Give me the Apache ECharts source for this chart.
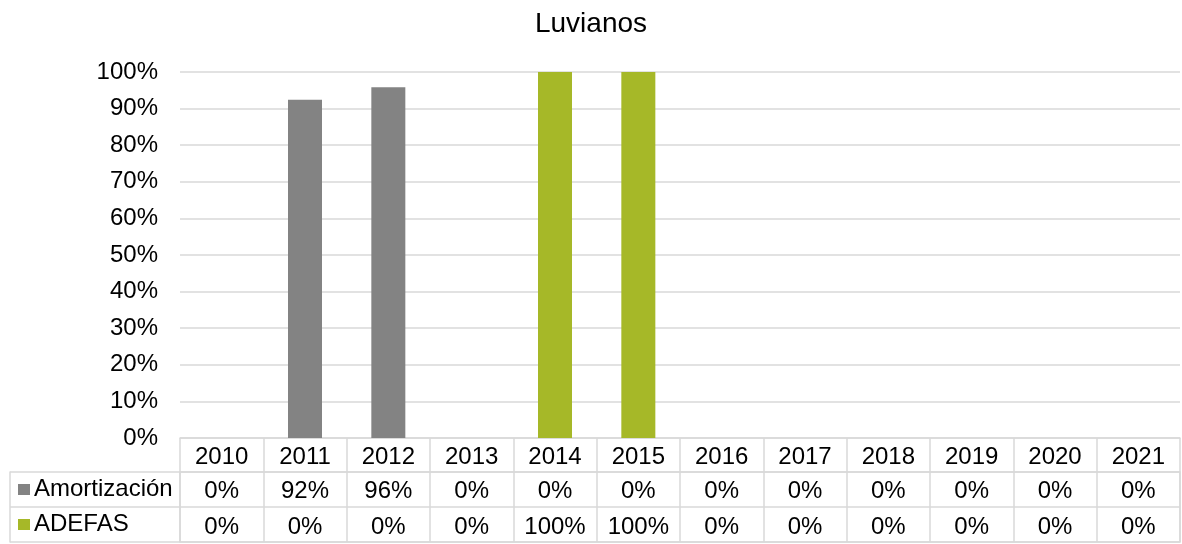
<!DOCTYPE html>
<html>
<head>
<meta charset="utf-8">
<script src="https://cdn.jsdelivr.net/npm/echarts@6/dist/echarts.min.js"></script>
<style>
  html, body { margin: 0; padding: 0; background: #fff; }
  #chart { width: 1182px; height: 544px; }
</style>
</head>
<body>
<div id="chart"></div>
<script>
// datos de la gráfica
var years = ["2010", "2011", "2012", "2013", "2014", "2015", "2016", "2017", "2018", "2019", "2020", "2021"];
var amortizacion = [0, 92.4, 95.8, 0, 0, 0, 0, 0, 0, 0, 0, 0];
var adefas = [0, 0, 0, 0, 100, 100, 0, 0, 0, 0, 0, 0];
var seriesNames = ["Amortización", "ADEFAS"];
var rowNames = ["Amortización", "ADEFAS"];
var yMin = 0, yMax = 100, yStep = 10;

var colors = ["#838383", "#a6b828"];
var lineColor = "#d9d9d9";
var fontFamily = "Liberation Sans, Arial, sans-serif";
var fs = 24;

var chart = echarts.init(document.getElementById("chart"));

function pct(v) {
  return Math.round(v) + "%";
}

var option = {
  animation: false,
  backgroundColor: "#fff",
  textStyle: { fontFamily: fontFamily },
  title: {
    text: "Luvianos",
    left: "center",
    top: 5,
    textStyle: { fontFamily: fontFamily, fontSize: 28, fontWeight: "normal", color: "#000" }
  },
  grid: [
    { left: 180, right: 2, top: 72, height: 366 },
    { left: 180, right: 2, top: 472, height: 71, show: true, borderColor: lineColor, borderWidth: 1.5 }
  ],
  xAxis: [
    {
      gridIndex: 0,
      type: "category",
      data: years,
      axisLine: { lineStyle: { color: lineColor, width: 1.5 } },
      axisTick: { show: true, length: 34, interval: 0, lineStyle: { color: lineColor, width: 1.5 } },
      axisLabel: { interval: 0, margin: 7, fontSize: fs, color: "#000", fontFamily: fontFamily }
    },
    {
      // filas de la tabla de datos
      gridIndex: 1,
      type: "category",
      position: "top",
      data: years,
      axisLine: { show: false },
      axisTick: { show: false },
      splitLine: { show: true, interval: 0, lineStyle: { color: lineColor, width: 1.5 } },
      axisLabel: {
        inside: true,
        interval: 0,
        margin: 1,
        fontSize: fs,
        lineHeight: 36,
        color: "#000",
        fontFamily: fontFamily,
        formatter: function (value, idx) {
          return pct(amortizacion[idx]) + "\n" + pct(adefas[idx]);
        }
      }
    }
  ],
  yAxis: [
    {
      gridIndex: 0,
      type: "value",
      min: yMin,
      max: yMax,
      interval: yStep,
      axisLine: { show: false },
      axisTick: { show: false },
      splitLine: { lineStyle: { color: lineColor, width: 1.5 } },
      axisLabel: { margin: 22, fontSize: fs, color: "#000", fontFamily: fontFamily, formatter: "{value}%" }
    },
    {
      gridIndex: 1,
      type: "category",
      inverse: true,
      data: rowNames,
      axisLine: { show: false },
      axisTick: { show: true, length: 170, lineStyle: { color: lineColor, width: 1.5 } },
      splitLine: { show: true, lineStyle: { color: lineColor, width: 1.5 } },
      axisLabel: {
        align: "left",
        margin: 162,
        fontFamily: fontFamily,
        formatter: function (value, idx) {
          return "{m" + idx + "| }{t|" + value + "}";
        },
        rich: {
          m0: { width: 12, height: 11, backgroundColor: colors[0] },
          m1: { width: 12, height: 11, backgroundColor: colors[1] },
          t: { fontSize: fs, color: "#000", padding: [0, 0, 0, 4], fontFamily: fontFamily }
        }
      }
    },
    {
      // borde izquierdo de la tabla
      gridIndex: 1,
      type: "category",
      position: "left",
      offset: 170,
      data: rowNames,
      axisLine: { show: true, lineStyle: { color: lineColor, width: 1.5 } },
      axisTick: { show: false },
      axisLabel: { show: false }
    }
  ],
  series: [
    {
      name: seriesNames[0],
      type: "bar",
      stack: "total",
      xAxisIndex: 0,
      yAxisIndex: 0,
      barWidth: 34,
      data: amortizacion,
      itemStyle: { color: colors[0] }
    },
    {
      name: seriesNames[1],
      type: "bar",
      stack: "total",
      xAxisIndex: 0,
      yAxisIndex: 0,
      barWidth: 34,
      data: adefas,
      itemStyle: { color: colors[1] }
    }
  ]
};

chart.setOption(option);
window.addEventListener("resize", function () {
  chart.resize();
});
</script>
</body>
</html>
